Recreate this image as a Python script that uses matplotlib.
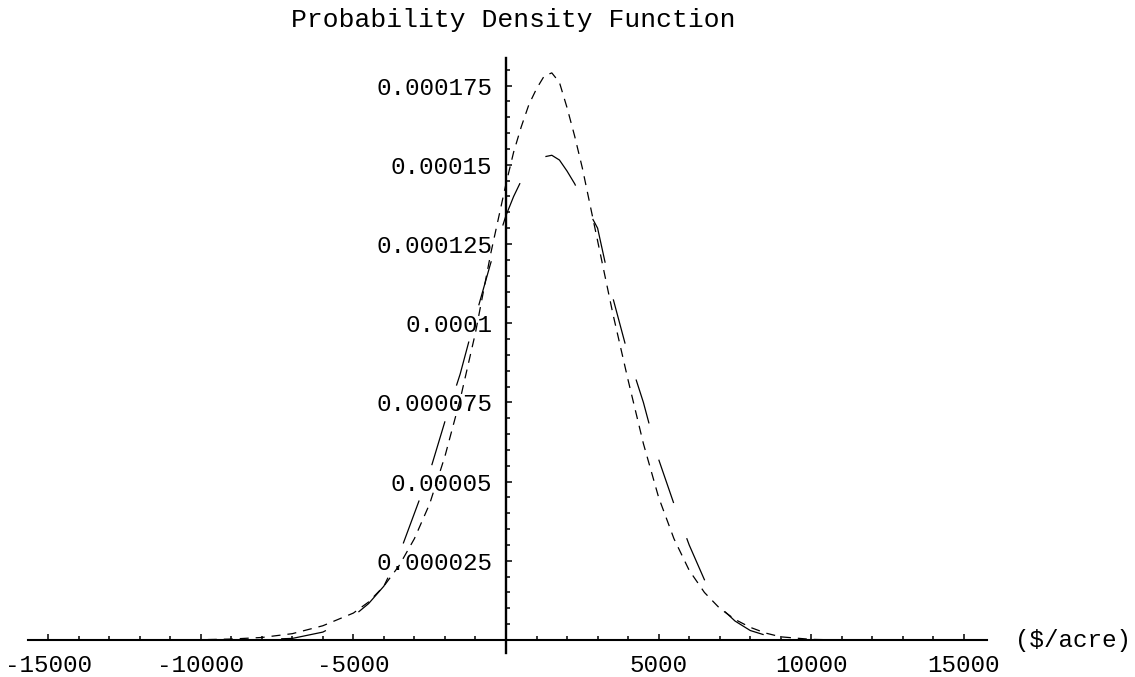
import numpy as np
import matplotlib
matplotlib.use('Agg')
import matplotlib.pyplot as plt
from matplotlib.ticker import FixedLocator, FixedFormatter, MultipleLocator

plt.rcParams['font.family'] = ['Liberation Mono', 'DejaVu Sans Mono']
plt.rcParams['lines.scale_dashes'] = False

# values, density in units of 1e-5
scale = 1e-5
x_short = [-15000, -14000, -13000, -12000, -11000, -10000, -9000, -8000, -7000, -6000,
           -5000, -4500, -4000, -3500, -3000, -2500, -2000, -1500, -1000, -500,
           0, 250, 500, 750, 1000, 1250, 1500, 1750, 2000, 2250, 2500, 3000, 3500, 4000,
           4500, 5000, 5500, 6000, 6500, 7000, 7500, 8000, 8500, 9000,
           10000, 11000, 12000, 13000, 14000, 15000]
y_short = [0.0, 0.0, 0.0, 0.0, 0.0, 0.01, 0.03, 0.08, 0.2, 0.45,
           0.85, 1.2, 1.7, 2.35, 3.2, 4.3, 5.8, 7.6, 9.7, 12.2,
           14.4, 15.4, 16.2, 16.9, 17.4, 17.8, 17.9, 17.6, 16.8, 15.9, 14.9, 12.6, 10.3, 8.2,
           6.2, 4.5, 3.2, 2.2, 1.5, 1.0, 0.65, 0.4, 0.22, 0.1,
           0.02, 0.0, 0.0, 0.0, 0.0, 0.0]

x_long = [-15000, -14000, -13000, -12000, -11000, -10000, -9000, -8000, -7000, -6000,
          -5000, -4500, -4000, -3500, -3000, -2500, -2000, -1500, -1000, -500,
          0, 250, 500, 750, 1000, 1250, 1500, 1750, 2000, 2250, 2500, 3000, 3500, 4000, 4500,
          5000, 5500, 6000, 6500, 7000, 7500, 8000, 8500, 9000, 10000,
          11000, 12000, 13000, 14000, 15000]
y_long = [0.0, 0.0, 0.0, 0.0, 0.0, 0.0, 0.0, 0.02, 0.05, 0.25,
          0.75, 1.15, 1.7, 2.7, 4.0, 5.3, 6.9, 8.4, 10.2, 11.9,
          13.4, 14.0, 14.5, 14.85, 15.1, 15.25, 15.3, 15.15, 14.8, 14.4, 13.9, 13.0, 10.8, 9.0, 7.5,
          5.7, 4.3, 3.0, 1.9, 1.05, 0.6, 0.3, 0.15, 0.05, 0.0,
          0.0, 0.0, 0.0, 0.0, 0.0]

x_major = [-15000, -10000, -5000, 5000, 10000, 15000]
x_labels = ['-15000', '-10000', '-5000', '5000', '10000', '15000']
y_major = [0.000025, 0.00005, 0.000075, 0.0001, 0.000125, 0.00015, 0.000175]
y_labels = ['0.000025', '0.00005', '0.000075', '0.0001', '0.000125', '0.00015', '0.000175']

fig = plt.figure(figsize=(11.35, 6.77), dpi=100)
ax = fig.add_axes([28 / 1135, 24 / 677, 959 / 1135, 595 / 677])
ax.set_xlim(-15657, 15755)
ax.set_ylim(-4.1e-6, 1.837e-4)

ax.plot(x_short, np.array(y_short) * scale, color='black', lw=0.9, dashes=(6.5, 5))

# long dashes: shift the pattern so a gap falls over the top of the curve, as in the original
dash_on, dash_off = 33, 27
pts = ax.transData.transform(np.column_stack([x_long, np.array(y_long) * scale]))
arc = np.concatenate([[0], np.cumsum(np.hypot(*np.diff(pts, axis=0).T))]) * 72 / fig.dpi
s0 = np.interp(460, x_long, arc)
offset = (dash_on - s0) % (dash_on + dash_off)
ax.plot(x_long, np.array(y_long) * scale, color='black', lw=0.9,
        linestyle=(offset, (dash_on, dash_off)))

# axes cross at the origin
for side in ['top', 'right']:
    ax.spines[side].set_visible(False)
ax.spines['left'].set_position(('data', 0))
ax.spines['bottom'].set_position(('data', 0))
ax.spines['left'].set_linewidth(1.7)
ax.spines['bottom'].set_linewidth(1.5)

ax.xaxis.set_major_locator(FixedLocator(x_major))
ax.xaxis.set_major_formatter(FixedFormatter(x_labels))
ax.xaxis.set_minor_locator(MultipleLocator(1000))
ax.yaxis.set_major_locator(FixedLocator(y_major))
ax.yaxis.set_major_formatter(FixedFormatter(y_labels))
ax.yaxis.set_minor_locator(MultipleLocator(5e-6))

ax.tick_params(axis='both', which='both', direction='in', width=1.1, labelsize=17.5, pad=10)
ax.tick_params(axis='x', which='major', length=4)
ax.tick_params(axis='x', which='minor', length=3)
ax.tick_params(axis='y', which='major', length=4.5)
ax.tick_params(axis='y', which='minor', length=3)

ax.annotate('($/acre)', xy=(1, 0), xycoords=('axes fraction', 'data'),
            xytext=(20, 0), textcoords='offset points',
            ha='left', va='center', fontsize=17.5, annotation_clip=False)

fig.text(513 / 1135, 1 - 20 / 677, 'Probability Density Function',
         ha='center', va='center', fontsize=19)

fig.savefig('out.png', dpi=100, facecolor='white')
